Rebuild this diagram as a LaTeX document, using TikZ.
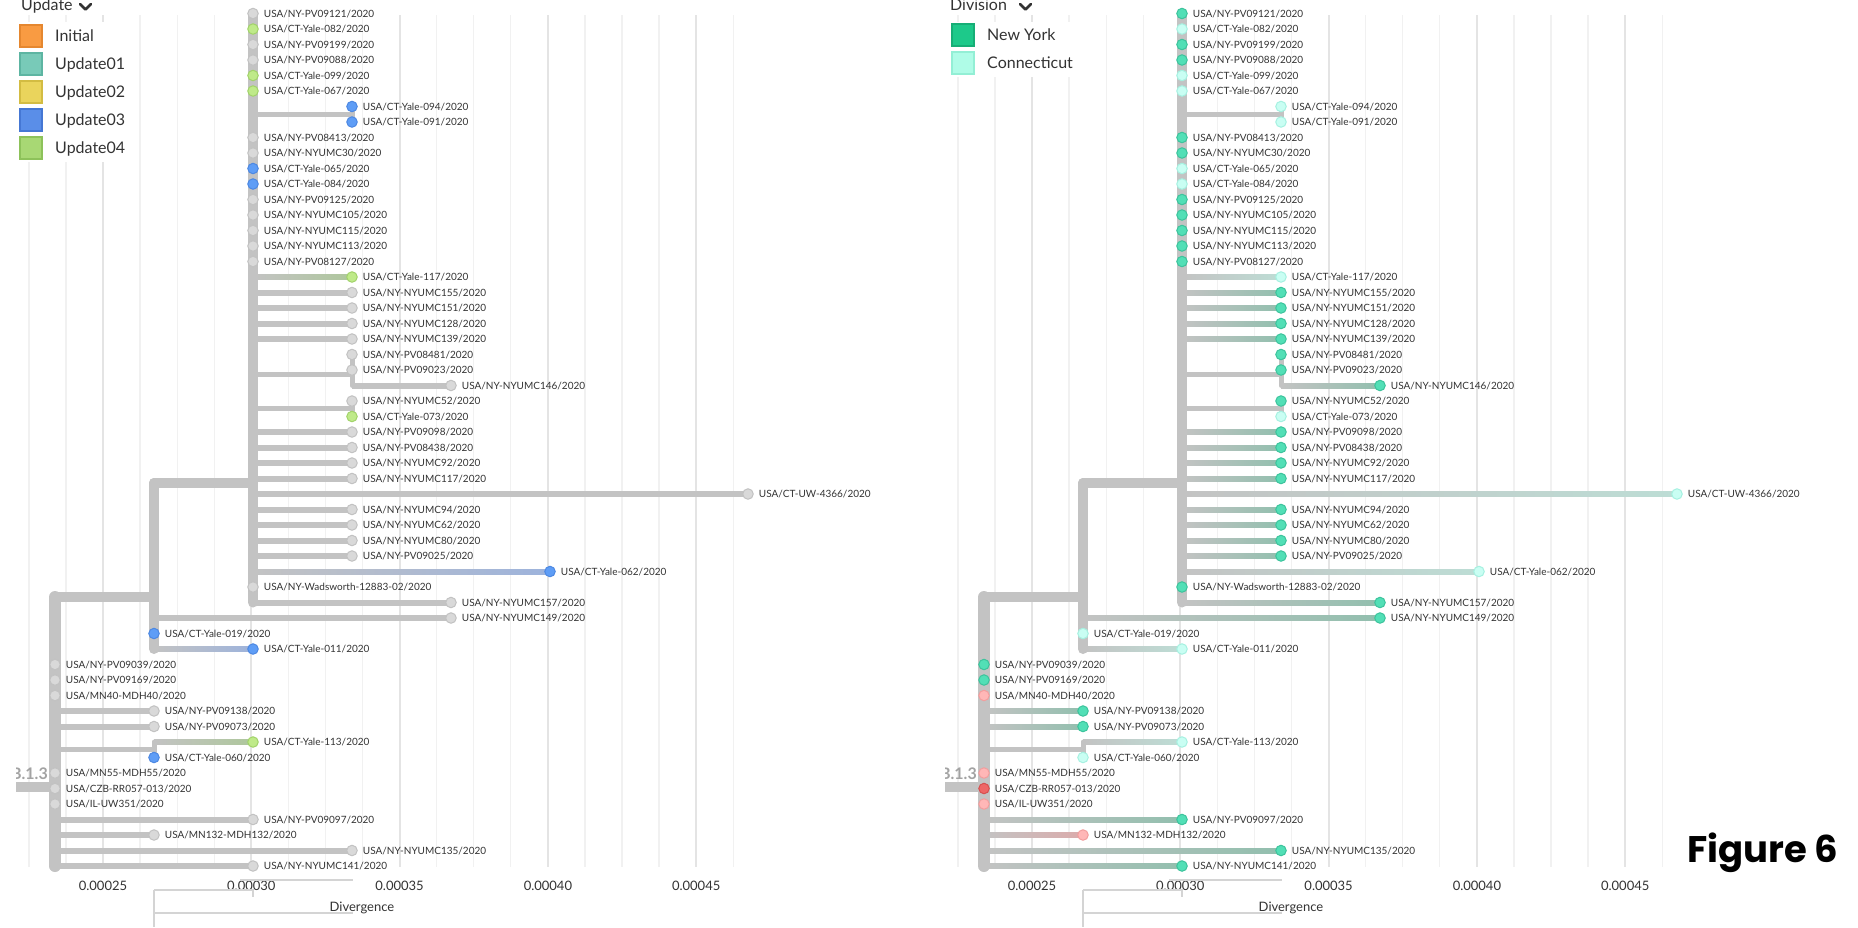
\documentclass[tikz,border=0pt]{standalone}
\usepackage{fontspec}
\setmainfont{Lato}
\newfontfamily\figfont{Poppins}
\usetikzlibrary{positioning}

\definecolor{brgray}{HTML}{C3C3C3}
\definecolor{gridmin}{HTML}{F1F1F1}
\definecolor{gridmaj}{HTML}{E4E4E4}
\definecolor{axgray}{HTML}{D4D4D4}
\definecolor{txt}{HTML}{333333}
\definecolor{cladegray}{HTML}{A3A3A3}
% tip fill / tip border / branch end
\definecolor{tfgr}{HTML}{D9D9D9}\definecolor{tdgr}{HTML}{C2C2C2}\definecolor{begr}{HTML}{C3C3C3}
\definecolor{tfgn}{HTML}{BFEA89}\definecolor{tdgn}{HTML}{A2D36A}\definecolor{begn}{HTML}{AEC79C}
\definecolor{tfbl}{HTML}{5E9DF6}\definecolor{tdbl}{HTML}{4D88E2}\definecolor{bebl}{HTML}{9DB3DC}
\definecolor{tfny}{HTML}{52DFB6}\definecolor{tdny}{HTML}{3CC39C}\definecolor{beny}{HTML}{92BFAE}
\definecolor{tfct}{HTML}{C9FEF3}\definecolor{tdct}{HTML}{A6F1E1}\definecolor{bect}{HTML}{BDDDD5}
\definecolor{tfmn}{HTML}{FFB7B7}\definecolor{tdmn}{HTML}{F29E9E}\definecolor{bemn}{HTML}{DBABAB}
\definecolor{tfcz}{HTML}{EE6666}\definecolor{tdcz}{HTML}{D65050}\definecolor{becz}{HTML}{DBABAB}
% legend squares
\definecolor{fInit}{HTML}{F99B42}\definecolor{dInit}{HTML}{E5872F}
\definecolor{fUa}{HTML}{78CAB8}\definecolor{dUa}{HTML}{5DB5A2}
\definecolor{fUb}{HTML}{EAD45C}\definecolor{dUb}{HTML}{D3BC42}
\definecolor{fUc}{HTML}{5A8EE8}\definecolor{dUc}{HTML}{4577D4}
\definecolor{fUd}{HTML}{A8D874}\definecolor{dUd}{HTML}{8DC25A}
\definecolor{fNY}{HTML}{1DC98A}\definecolor{dNY}{HTML}{16AE76}
\definecolor{fCT}{HTML}{AFFCE7}\definecolor{dCT}{HTML}{93EFD5}

\tikzstyle{tip}=[circle, minimum size=10.5pt, inner sep=0pt, line width=1pt]
\tikzstyle{tiplabel}=[inner sep=0pt, text height=7.2pt, text depth=0pt, text=txt, font=\fontsize{10}{12}\selectfont]
\tikzstyle{brline}=[brgray, line width=5pt, line cap=round]
\tikzstyle{trunk}=[brgray, line cap=round]
\tikzstyle{gridln}=[gridmin, line width=1.3pt]
\tikzstyle{gridmajor}=[gridmaj, line width=2pt]
\tikzstyle{axislabel}=[inner sep=0pt, text=txt, font=\fontsize{13}{15}\selectfont]
\tikzstyle{axisline}=[axgray, line width=1.3pt]
\tikzstyle{legsq}=[rectangle, minimum size=22pt, inner sep=0pt, line width=2pt]
\tikzstyle{legtext}=[inner sep=0pt, text height=11.5pt, text depth=0pt, text=txt, font=\fontsize{16}{19}\selectfont]
\tikzstyle{leghead}=[inner sep=0pt, anchor=base west, text=txt, font=\fontsize{16}{19}\selectfont]
\tikzstyle{chev}=[txt, line width=2.6pt, line cap=round, line join=round]
\tikzstyle{clade}=[inner sep=0pt, anchor=base east, text=cladegray, font=\bfseries\fontsize{16}{19}\selectfont]

% row / parent x / tip x / strain / update / division
\newcommand{\tipdata}{1/253/253/NY-PV09121/gr/ny, 2/253/253/CT-Yale-082/gn/ct,
 3/253/253/NY-PV09199/gr/ny, 4/253/253/NY-PV09088/gr/ny, 5/253/253/CT-Yale-099/gn/ct,
 6/253/253/CT-Yale-067/gn/ct, 7/352/352/CT-Yale-094/bl/ct, 8/352/352/CT-Yale-091/bl/ct,
 9/253/253/NY-PV08413/gr/ny, 10/253/253/NY-NYUMC30/gr/ny, 11/253/253/CT-Yale-065/bl/ct,
 12/253/253/CT-Yale-084/bl/ct, 13/253/253/NY-PV09125/gr/ny, 14/253/253/NY-NYUMC105/gr/ny,
 15/253/253/NY-NYUMC115/gr/ny, 16/253/253/NY-NYUMC113/gr/ny, 17/253/253/NY-PV08127/gr/ny,
 18/253/352/CT-Yale-117/gn/ct, 19/253/352/NY-NYUMC155/gr/ny, 20/253/352/NY-NYUMC151/gr/ny,
 21/253/352/NY-NYUMC128/gr/ny, 22/253/352/NY-NYUMC139/gr/ny, 23/352/352/NY-PV08481/gr/ny,
 24/352/352/NY-PV09023/gr/ny, 25/352/451/NY-NYUMC146/gr/ny, 26/352/352/NY-NYUMC52/gr/ny,
 27/352/352/CT-Yale-073/gn/ct, 28/253/352/NY-PV09098/gr/ny, 29/253/352/NY-PV08438/gr/ny,
 30/253/352/NY-NYUMC92/gr/ny, 31/253/352/NY-NYUMC117/gr/ny, 32/253/748/CT-UW-4366/gr/ct,
 33/253/352/NY-NYUMC94/gr/ny, 34/253/352/NY-NYUMC62/gr/ny, 35/253/352/NY-NYUMC80/gr/ny,
 36/253/352/NY-PV09025/gr/ny, 37/253/550/CT-Yale-062/bl/ct, 38/253/253/NY-Wadsworth-12883-02/gr/ny,
 39/253/451/NY-NYUMC157/gr/ny, 40/154/451/NY-NYUMC149/gr/ny, 41/154/154/CT-Yale-019/bl/ct,
 42/154/253/CT-Yale-011/bl/ct, 43/55/55/NY-PV09039/gr/ny, 44/55/55/NY-PV09169/gr/ny,
 45/55/55/MN40-MDH40/gr/mn, 46/55/154/NY-PV09138/gr/ny, 47/55/154/NY-PV09073/gr/ny,
 48/154/253/CT-Yale-113/gn/ct, 49/154/154/CT-Yale-060/bl/ct, 50/55/55/MN55-MDH55/gr/mn,
 51/55/55/CZB-RR057-013/gr/cz, 52/55/55/IL-UW351/gr/mn, 53/55/253/NY-PV09097/gr/ny,
 54/55/154/MN132-MDH132/gr/mn, 55/55/352/NY-NYUMC135/gr/ny, 56/55/253/NY-NYUMC141/gr/ny}

\begin{document}
\begin{tikzpicture}[x=1pt, y=-1pt]

\fill[white] (0,0) rectangle (1858,927);
\useasboundingbox (0,0) rectangle (1858,927);

\foreach \pn/\dx/\sel in {l/0/1, r/929/2} {
\begin{scope}[xshift=\dx pt]
\clip (16,0) rectangle (929,927);

% grid and axis
\foreach \m in {-2,...,17} \draw[gridln] (103+37.075*\m,15) -- (103+37.075*\m,867);
\foreach \m in {0,4,...,16} \draw[gridmajor] (103+37.075*\m,15) -- (103+37.075*\m,867);
\foreach \j/\lab in {0/0.00025, 1/0.00030, 2/0.00035, 3/0.00040, 4/0.00045}
  \node[axislabel] at (103+148.3*\j,886) {\lab};
\draw[axisline] (240,880) -- (353,880);
\draw[axisline] (154,890) -- (253,890) -- (253,897);
\draw[axisline] (154,890) -- (154,927);
\draw[axisline] (154,913) -- (353,913);
\node[axislabel, anchor=base] at (362,911) {Divergence};

% internal nodes
\coordinate (\pn O) at (0,787);
\coordinate (\pn R) at (55,787);
\coordinate (\pn A) at (154,597);
\coordinate (\pn B) at (253,483);
\coordinate (\pn C) at (352,114.25);
\coordinate (\pn D) at (352,374);
\coordinate (\pn E) at (352,408.75);
\coordinate (\pn F) at (154,749.75);

% tip branches
\foreach \rw/\px/\tx/\id/\ca/\cb in \tipdata {
  \ifnum\sel=1 \let\tcat\ca \else \let\tcat\cb \fi
  \pgfmathsetmacro\y{13.5+(\rw-1)*15.5}
  \coordinate (\pn s\rw) at (\px,\y);
  \coordinate (\pn t\rw) at (\tx,\y);
  \ifnum\px<\tx
    \shade[left color=brgray, right color=be\tcat] ([yshift=2.5pt]\pn s\rw) rectangle ([yshift=-2.5pt]\pn t\rw);
  \fi
}

% inner branches
\draw[trunk, line width=10pt] (\pn O) -- (\pn R);
\draw[trunk, line width=10pt] (\pn R |- \pn A) -- (\pn A);
\draw[trunk, line width=10pt] (\pn A |- \pn B) -- (\pn B);
\draw[brline] (\pn B |- \pn C) -- (\pn C);
\draw[brline] (\pn B |- \pn D) -- (\pn D);
\draw[brline] (\pn B |- \pn E) -- (\pn E);
\draw[brline] (\pn R |- \pn F) -- (\pn F);

\draw[trunk, line width=12pt] (\pn R |- \pn A) -- (\pn R |- \pn t56);
\draw[trunk, line width=10pt] (\pn A |- \pn B) -- (\pn A |- \pn t42);
\draw[trunk, line width=10pt] (\pn t1) -- (\pn B |- \pn t39);
\draw[brline] (\pn t7) -- (\pn t8);
\draw[brline] (\pn t23) -- (\pn D |- \pn t25);
\draw[brline] (\pn t26) -- (\pn t27);
\draw[brline] (\pn F |- \pn t48) -- (\pn t49);

% tips
\foreach \rw/\px/\tx/\id/\ca/\cb in \tipdata {
  \ifnum\sel=1 \let\tcat\ca \else \let\tcat\cb \fi
  \node[tip, fill=tf\tcat, draw=td\tcat] (\pn n\rw) at (\pn t\rw) {};
  \node[tiplabel, right=5pt of \pn n\rw] {USA/\id/2020};
}

\node[clade] at (48,779) {B.1.3};
\end{scope}
}

% legend: update
\fill[white] (15,22) rectangle (137,162);
\node[leghead] (uhd) at (21,10) {Update};
\draw[chev] (80,4) -- (85.5,9.5) -- (91,4);
\foreach \i/\nm/\lc in {0/Initial/Init, 1/Update01/Ua, 2/Update02/Ub, 3/Update03/Uc, 4/Update04/Ud} {
  \node[legsq, fill=f\lc, draw=d\lc] (k\i) at (30.5,36+28*\i) {};
  \node[legtext, right=12.5pt of k\i] {\nm};
}

% legend: division
\fill[white] (945,22) rectangle (1080,77);
\node[leghead] (dhd) at (950,10) {Division};
\draw[chev] (1020,4) -- (1025.5,9.5) -- (1031,4);
\node[legsq, fill=fNY, draw=dNY] (ny) at (962.5,35) {};
\node[legtext, right=12.5pt of ny] {New York};
\node[legsq, fill=fCT, draw=dCT] (ct) at (962.5,62.5) {};
\node[legtext, right=12.5pt of ct] {Connecticut};

\node[anchor=base west, inner sep=0pt, font=\figfont\bfseries\fontsize{37}{44}\selectfont] at (1687,862) {Figure 6};

\end{tikzpicture}
\end{document}
